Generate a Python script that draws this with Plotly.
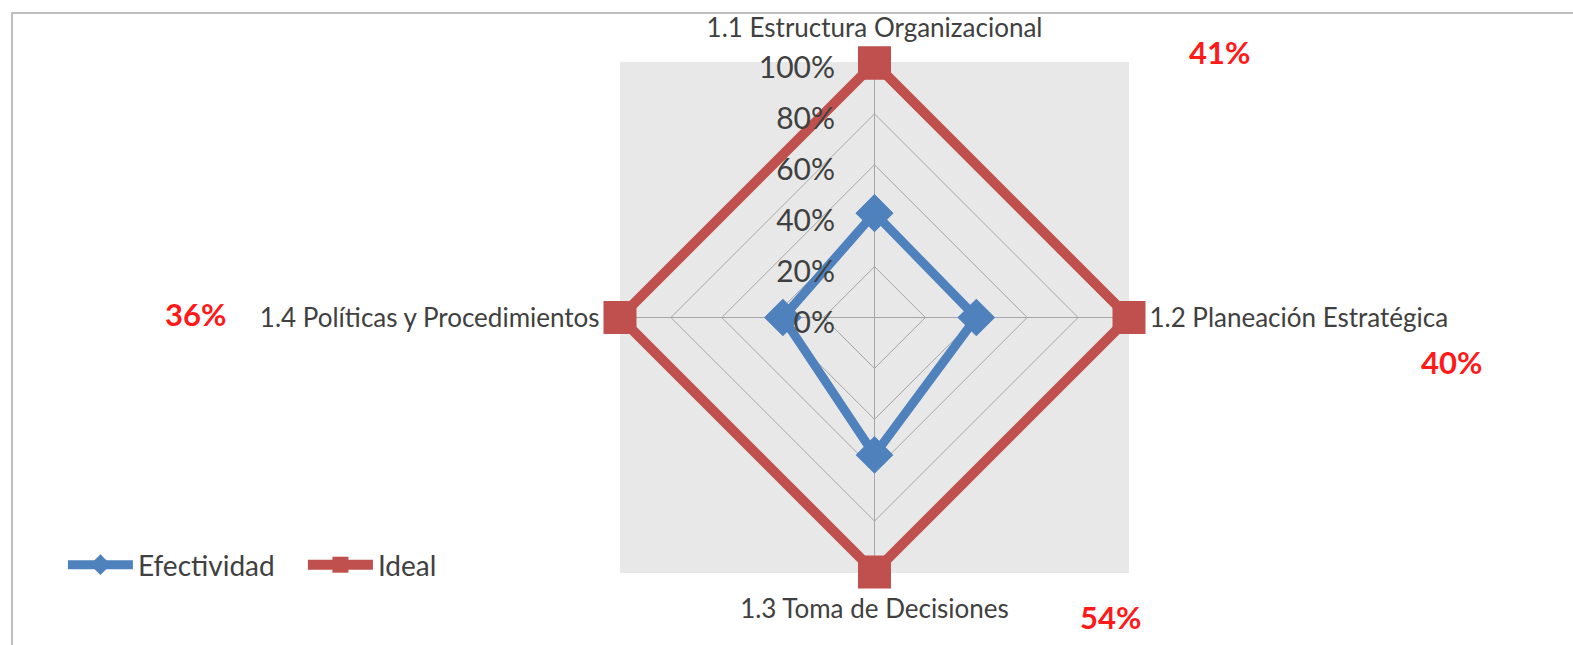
import plotly.graph_objects as go

categories = ["1.1 Estructura Organizacional", "1.2 Planeación Estratégica",
              "1.3 Toma de Decisiones", "1.4 Políticas y Procedimientos"]
efectividad = [0.41, 0.40, 0.54, 0.36]
ideal = [1.0, 1.0, 1.0, 1.0]
radial_ticks = [0, 0.2, 0.4, 0.6, 0.8, 1.0]

# positions of the red percentage callouts (paper coords) – layout only
callout_pos = [(0.775, 0.919), (0.923, 0.439), (0.706, 0.043), (0.124, 0.513)]

W, H = 1573, 645
FONT = "Lato"
RMAX = 1.05  # small headroom so the thick outer line is not clipped

def closed(v):
    return list(v) + [v[0]]

fig = go.Figure()
fig.add_trace(go.Scatterpolar(
    r=closed(efectividad), theta=closed(categories), name="Efectividad",
    mode="lines+markers", cliponaxis=False,
    line=dict(color="#4F81BD", width=9),
    marker=dict(symbol="diamond", size=29, color="#4F81BD"),
))
fig.add_trace(go.Scatterpolar(
    r=closed(ideal), theta=closed(categories), name="Ideal",
    mode="lines+markers", cliponaxis=False,
    line=dict(color="#C0504D", width=10),
    marker=dict(symbol="square", size=33, color="#C0504D"),
))

# gray square (pixel extents of the 100% ring) and polar domain derived from it
sq_px = dict(x0=620, x1=1129, y0=62, y1=573)
cx = (sq_px["x0"] + sq_px["x1"]) / 2
cy = (sq_px["y0"] + sq_px["y1"]) / 2
half = (sq_px["x1"] - sq_px["x0"]) / 2
dh = half * RMAX
dom_x = [(cx - dh) / W, (cx + dh) / W]
dom_y = [1 - (cy + dh) / H, 1 - (cy - dh) / H]

annotations = []
for (x, y), v in zip(callout_pos, efectividad):
    annotations.append(dict(
        x=x, y=y, xref="paper", yref="paper", text=f"<b>{round(v*100)}%</b>",
        showarrow=False, font=dict(family=FONT, size=31, color="#FF1A1A"),
        xanchor="center", yanchor="middle"))

fig.update_layout(
    width=W, height=H,
    margin=dict(l=0, r=0, t=0, b=0),
    paper_bgcolor="white",
    font=dict(family=FONT, color="#404040"),
    polar=dict(
        domain=dict(x=dom_x, y=dom_y),
        bgcolor="rgba(0,0,0,0)",
        gridshape="linear",
        radialaxis=dict(
            range=[0, RMAX], tickvals=radial_ticks, tickformat=".0%",
            angle=90, side="counterclockwise", showline=False,
            ticks="outside", ticklen=12, tickcolor="rgba(0,0,0,0)",
            gridcolor="#A6A6A6", gridwidth=1,
            tickfont=dict(family=FONT, size=30, color="#404040"),
        ),
        angularaxis=dict(
            direction="clockwise", rotation=90, showline=False,
            gridcolor="#A6A6A6", gridwidth=1,
            ticks="outside", ticklen=2, tickcolor="rgba(0,0,0,0)",
            tickfont=dict(family=FONT, size=26, color="#404040"),
        ),
    ),
    shapes=[
        dict(type="rect", xref="paper", yref="paper", layer="below",
             x0=sq_px["x0"] / W, x1=sq_px["x1"] / W,
             y0=1 - sq_px["y1"] / H, y1=1 - sq_px["y0"] / H,
             fillcolor="#E8E8E8", line=dict(width=0)),
        dict(type="rect", xref="paper", yref="paper", layer="below",
             x0=12 / W, x1=1.2, y0=-0.2, y1=1 - 13 / H,
             fillcolor="rgba(0,0,0,0)", line=dict(color="#BFBFBF", width=2)),
    ],
    legend=dict(orientation="h", x=0.040, y=1 - 565 / H, xanchor="left", yanchor="middle",
                font=dict(family=FONT, size=28, color="#404040"),
                itemwidth=65, entrywidth=160,
                bgcolor="rgba(0,0,0,0)"),
    annotations=annotations,
    showlegend=True,
)

fig.write_html("out.html", config={"displayModeBar": False},
               post_script="document.body.style.margin='0';")
